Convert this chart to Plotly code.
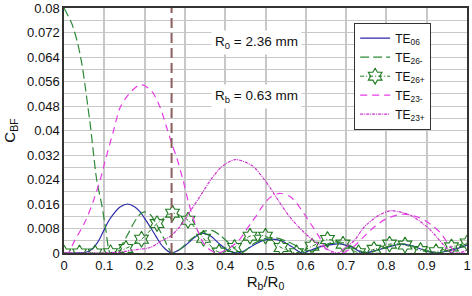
import plotly.graph_objects as go

R0_mm = 2.36
Rb_mm = 0.63

# TE06
te06_x = [0, 0.03, 0.05, 0.06, 0.07, 0.08, 0.09, 0.10, 0.11, 0.123, 0.14, 0.158, 0.175, 0.189, 0.20, 0.214, 0.228, 0.239, 0.252, 0.266,
          0.28, 0.297, 0.315, 0.33, 0.342, 0.363, 0.388, 0.41, 0.43, 0.45, 0.471, 0.495, 0.517, 0.54, 0.565, 0.59,
          0.61, 0.632, 0.655, 0.683, 0.714, 0.743, 0.77, 0.803, 0.836, 0.862, 0.89, 0.92, 0.95, 0.977, 1.0]
te06_y = [0, 0, 0.0001, 0.0005, 0.0013, 0.0028, 0.005, 0.0077, 0.0103, 0.0128, 0.0151, 0.016, 0.0151, 0.0134, 0.0113, 0.0085, 0.0055, 0.0031, 0.0012, 0,
          0.0006, 0.002, 0.0041, 0.0057, 0.0065, 0.0056, 0.0027, 0.0007, 0, 0.0009, 0.0026, 0.0041, 0.0045, 0.0039, 0.0021, 0,
          0.0008, 0.0019, 0.0026, 0.003, 0.0019, 0, 0.0007, 0.0019, 0.0029, 0.0024, 0.0011, 0, 0.0006, 0.0015, 0.0026]

# TE26-
te26m_x = [0, 0.019, 0.033, 0.044, 0.052, 0.059, 0.066, 0.072, 0.081, 0.094, 0.104, 0.115,
           0.13, 0.145, 0.16, 0.175, 0.19, 0.2, 0.215, 0.23, 0.245, 0.258, 0.268,
           0.29, 0.315, 0.345, 0.367, 0.39, 0.415, 0.44, 0.47, 0.5, 0.525, 0.555, 0.58, 0.60,
           0.63, 0.66, 0.685, 0.71, 0.75, 0.78, 0.81, 0.845, 0.875, 0.93, 0.96, 1.0]
te26m_y = [0.080, 0.075, 0.069, 0.062, 0.055, 0.048, 0.041, 0.034, 0.024, 0.0155, 0.0074, 0,
           0.0005, 0.003, 0.0065, 0.0102, 0.0128, 0.0134, 0.0124, 0.0092, 0.0055, 0.002, 0,
           0.0015, 0.0045, 0.0069, 0.0074, 0.0055, 0.0025, 0, 0.003, 0.0048, 0.005, 0.0037, 0.002, 0,
           0.0015, 0.0032, 0.0036, 0.0024, 0, 0.001, 0.0024, 0.003, 0.0018, 0, 0.0012, 0.003]

# TE26+
te26p_x = [0, 0.0385, 0.0769, 0.1154, 0.1538, 0.1923, 0.2308, 0.2692, 0.3077, 0.3462, 0.3846, 0.4231, 0.4615,
           0.5, 0.5385, 0.5769, 0.6154, 0.6538, 0.6923, 0.7308, 0.7692, 0.8077, 0.8462, 0.8846, 0.9231, 0.9615, 1.0]
te26p_y = [0, 0, 0, 0.0001, 0.0015, 0.0045, 0.0096, 0.013, 0.0107, 0.0048, 0.0003, 0.0018, 0.0055,
           0.0055, 0.0018, 0.0001, 0.0022, 0.0044, 0.0029, 0.0001, 0.0012, 0.0029, 0.0026, 0.0008, 0.0004, 0.002, 0.0033]

# TE23-
te23m_x = [0, 0.01, 0.027, 0.052, 0.073, 0.09, 0.104, 0.123, 0.139, 0.16, 0.19, 0.218, 0.239, 0.255, 0.268, 0.28, 0.295,
           0.309, 0.326, 0.338, 0.35, 0.365, 0.38,
           0.4, 0.425, 0.438, 0.463, 0.478, 0.49, 0.51, 0.535, 0.56, 0.577, 0.605, 0.632, 0.652, 0.665,
           0.69, 0.718, 0.76, 0.80, 0.843, 0.88, 0.902, 0.934, 0.958, 0.975, 1.0]
te23m_y = [0, 0, 0.0042, 0.0101, 0.017, 0.024, 0.031, 0.040, 0.0474, 0.0517, 0.055, 0.0528, 0.0474, 0.0409, 0.0355, 0.031, 0.024,
           0.0165, 0.0093, 0.0053, 0.0025, 0.0008, 0,
           0.0008, 0.003, 0.0048, 0.0096, 0.0123, 0.0148, 0.018, 0.0195, 0.0185, 0.0163, 0.011, 0.0055, 0.001, 0,
           0, 0.002, 0.0074, 0.0112, 0.0127, 0.0116, 0.0101, 0.0066, 0.0022, 0, 0]

# TE23+
te23p_x = [0, 0.05, 0.1, 0.14, 0.172, 0.214, 0.239, 0.264, 0.289, 0.313, 0.34, 0.363, 0.39, 0.425, 0.467, 0.5, 0.53,
           0.56, 0.595, 0.63, 0.66, 0.68,
           0.695, 0.72, 0.745, 0.78, 0.81, 0.84, 0.86, 0.89, 0.91, 0.942, 0.96, 0.98, 1.0]
te23p_y = [0, 0, 0, 0.0003, 0.001, 0.0018, 0.0037, 0.0055, 0.0088, 0.0136, 0.019, 0.0237, 0.028, 0.0305, 0.0285, 0.0235, 0.0175,
           0.0118, 0.0068, 0.003, 0.0008, 0,
           0.0015, 0.004, 0.0085, 0.0122, 0.0138, 0.0132, 0.0123, 0.0097, 0.0074, 0.0026, 0.0003, 0, 0.001]

x_ticks = [0, 0.1, 0.2, 0.3, 0.4, 0.5, 0.6, 0.7, 0.8, 0.9, 1]
x_labels = ["0", "0.1", "0.2", "0.3", "0.4", "0.5", "0.6", "0.7", "0.8", "0.9", "1"]
y_ticks = [0, 0.008, 0.016, 0.024, 0.032, 0.04, 0.048, 0.056, 0.064, 0.072, 0.08]
y_labels = ["0", "0.008", "0.016", "0.024", "0.032", "0.04", "0.048", "0.056", "0.064", "0.072", "0.08"]

FONT = "Liberation Sans, Arial, sans-serif"
BLUE = "#2a2aa8"
GREEN = "#2e8a37"
GREEN_D = "#1e7a1e"
MAG = "#e63ce6"
MAG2 = "#cc33cc"

fig = go.Figure()
fig.add_trace(go.Scatter(x=te06_x, y=te06_y, mode="lines", name="TE<sub>06</sub>",
                         line=dict(color=BLUE, width=1.2, shape="spline", smoothing=0.8)))
fig.add_trace(go.Scatter(x=te26m_x, y=te26m_y, mode="lines", name="TE<sub>26-</sub>",
                         line=dict(color=GREEN, width=1.2, dash="9px,4px", shape="spline", smoothing=0.8)))
fig.add_trace(go.Scatter(x=te26p_x, y=te26p_y, mode="lines+markers", name="TE<sub>26+</sub>",
                         line=dict(color=GREEN_D, width=1, dash="4px,2px,1px,2px", shape="spline", smoothing=0.8),
                         marker=dict(symbol="hexagram-open", size=12, color=GREEN_D, line=dict(width=1.1, color=GREEN_D))))
fig.add_trace(go.Scatter(x=te23m_x, y=te23m_y, mode="lines", name="TE<sub>23-</sub>",
                         line=dict(color=MAG, width=1.2, dash="7px,5px", shape="spline", smoothing=0.8)))
fig.add_trace(go.Scatter(x=te23p_x, y=te23p_y, mode="lines", name="TE<sub>23+</sub>",
                         line=dict(color=MAG2, width=1.2, dash="3px,1px,1px,1px", shape="spline", smoothing=0.8)))

ratio = Rb_mm / R0_mm
fig.add_shape(type="line", xref="x", yref="y", x0=ratio, x1=ratio, y0=0, y1=0.08,
              line=dict(color="#8a5f5f", width=2, dash="10px,5px"), layer="above")

fig.add_annotation(x=0.478, y=0.0687, xref="x", yref="y", text=f"R<sub>0</sub> = {R0_mm:.2f} mm", showarrow=False,
                   bgcolor="white", font=dict(family=FONT, size=13.5, color="#111"), borderpad=3)
fig.add_annotation(x=0.478, y=0.0512, xref="x", yref="y", text=f"R<sub>b</sub> = {Rb_mm:.2f} mm", showarrow=False,
                   bgcolor="white", font=dict(family=FONT, size=13.5, color="#111"), borderpad=3)

fig.update_layout(
    width=472, height=296,
    margin=dict(l=64, r=5, t=8, b=43, autoexpand=False),
    paper_bgcolor="white", plot_bgcolor="white",
    font=dict(family=FONT, size=13, color="#111"),
    showlegend=True,
    legend=dict(x=0.72, y=0.94, xanchor="left", yanchor="top", bgcolor="white",
                bordercolor="#333", borderwidth=1, font=dict(family=FONT, size=12, color="#111"),
                tracegroupgap=0, itemwidth=30),
    xaxis=dict(range=[0, 1], tickvals=x_ticks, ticktext=x_labels, showgrid=True, gridcolor="#c8c8c8", gridwidth=1.5,
               showline=True, linecolor="#333", linewidth=1.5, mirror=True, zeroline=False, ticks="",
               automargin=False,
               tickfont=dict(size=13), title=dict(text="R<sub>b</sub>/R<sub>0</sub>", font=dict(size=15), standoff=4)),
    yaxis=dict(range=[0, 0.08], tickvals=y_ticks, ticktext=y_labels, showgrid=True, gridcolor="#c8c8c8", gridwidth=1.2,
               minor=dict(dtick=0.004, showgrid=True, gridcolor="#c8c8c8", gridwidth=1.2),
               showline=True, linecolor="#333", linewidth=1.5, mirror=True, zeroline=False, ticks="",
               automargin=False,
               tickfont=dict(size=13), title=dict(text="C<sub>BF</sub>", font=dict(size=15), standoff=8)),
)

fig.write_html("out.html", config={"displayModeBar": False},
               post_script="document.body.style.margin='0';document.body.style.overflow='hidden';")
